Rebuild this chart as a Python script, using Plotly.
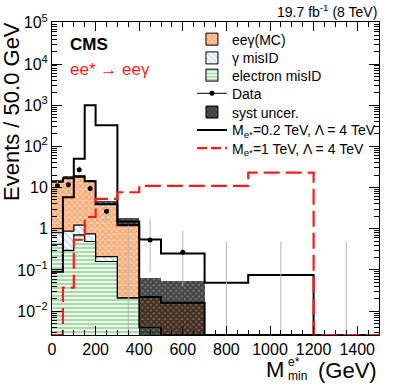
import plotly.graph_objects as go

# bin edges in GeV
edges = [0, 50, 100, 150, 200, 300, 400, 500, 700, 900, 1200, 1500]

# background stack (events / 50 GeV)
electron_misid = [0.42, 0.30, 0.71, 0.49, 0.16, 0.021, 0.004, 0, 0, 0, 0]
gamma_misid = [0.38, 0.58, 0.51, 0.26, 0.05, 0, 0, 0, 0, 0, 0]
eeg_mc = [13.0, 16.0, 17.4, 13.4, 3.7, 1.48, 0.018, 0.016, 0, 0, 0]

# systematic band
syst_lo = [13.3, 16.0, 17.5, 13.3, 3.7, 1.22, 0, 0, 0, 0, 0]
syst_hi = [15.1, 18.6, 20.3, 15.4, 4.85, 1.83, 0.065, 0.054, 0, 0, 0]

# signals
sig_02 = [0.09, 5.8, 50, 1000, 325, 1.22, 0.55, 0.25, 0.049, 0.075, 0]
sig_1 = [0, 0.037, 0.54, 1.93, 5.3, 7.7, 11, 11, 11, 23, 0]

# data
data = [11, 11.7, 27, 9.5, 2.65, 0, 0.53, 0.27, 0, 0, 0]
data_up = [3.5, 3.6, 6.3, 3.4, 1.1, 1.2, 1.23, 0.63, 0.49, 0.49, 0.49]
data_dn = [3.2, 3.3, 5.2, 3.0, 1.1, 0, 0.44, 0.23, 0, 0, 0]

y_ticks = [0.01, 0.1, 1, 10, 100, 1000, 1e4, 1e5]
y_ticktext = ["10<sup>−2</sup>", "10<sup>−1</sup>", "1", "10", "10<sup>2</sup>",
              "10<sup>3</sup>", "10<sup>4</sup>", "10<sup>5</sup>"]

FONT = "Liberation Sans"
RED = "#ff1a1a"
y_lo_log = -2.58
y_floor = 10 ** y_lo_log
bar_floor = 1e-5

n = len(edges) - 1
centers = [(edges[i] + edges[i + 1]) / 2 for i in range(n)]
widths = [edges[i + 1] - edges[i] for i in range(n)]

cum1 = electron_misid
cum2 = [a + b for a, b in zip(cum1, gamma_misid)]
cum3 = [a + b for a, b in zip(cum2, eeg_mc)]

pat_green = dict(shape="-", fgcolor="#4fb34f", bgcolor="#eef8ee", size=4, solidity=0.45)
pat_blue = dict(shape="\\", fgcolor="#7fb0de", bgcolor="white", size=5, solidity=0.3)
pat_orange = dict(shape="x", fgcolor="#f07020", bgcolor="#fcd3b2", size=4, solidity=0.55)
pat_syst = dict(shape="x", fgcolor="#000000", bgcolor="rgba(0,0,0,0.45)", size=4, solidity=0.85)


def step(vals):
    v = [max(x, y_floor) for x in vals]
    return v + [v[-1]]


fig = go.Figure()

fig.add_trace(go.Bar(x=centers, width=widths, base=[bar_floor] * n, y=electron_misid,
                     marker=dict(color="white", line_width=0, pattern=pat_green),
                     showlegend=False))
fig.add_trace(go.Bar(x=centers, width=widths, base=[max(v, bar_floor) for v in cum1],
                     y=gamma_misid,
                     marker=dict(color="white", line_width=0, pattern=pat_blue),
                     showlegend=False))
fig.add_trace(go.Bar(x=centers, width=widths, base=[max(v, bar_floor) for v in cum2],
                     y=eeg_mc,
                     marker=dict(color="white", line_width=0, pattern=pat_orange),
                     showlegend=False))
fig.add_trace(go.Bar(x=centers, width=widths, base=[max(v, bar_floor) for v in syst_lo],
                     y=[h - max(l, bar_floor) if h > 0 else 0 for l, h in zip(syst_lo, syst_hi)],
                     marker=dict(color="rgba(0,0,0,0)", line_width=0, pattern=pat_syst),
                     showlegend=False))

# stack outlines
for vals, lw in [(cum1, 1.2), (cum2, 1.2), (cum3, 2)]:
    fig.add_trace(go.Scatter(x=edges, y=step(vals), mode="lines", line_shape="hv",
                             line=dict(color="black", width=lw), showlegend=False,
                             hoverinfo="skip"))

# signals
fig.add_trace(go.Scatter(x=edges, y=step(sig_02), mode="lines", line_shape="hv",
                         line=dict(color="black", width=2), showlegend=False))
fig.add_trace(go.Scatter(x=edges, y=step(sig_1), mode="lines", line_shape="hv",
                         line=dict(color=RED, width=2.2, dash="16px,6px"), showlegend=False))

# data: empty bins (upper error only)
zx = [c for c, d in zip(centers, data) if d == 0]
zu = [u for u, d in zip(data_up, data) if d == 0]
fig.add_trace(go.Scatter(x=zx, y=zu, mode="markers",
                         marker=dict(size=1, color="rgba(0,0,0,0)"),
                         error_y=dict(type="data", symmetric=False, array=[0] * len(zx),
                                      arrayminus=[u - bar_floor for u in zu],
                                      color="#b5b5b5", thickness=1, width=0),
                         showlegend=False, hoverinfo="skip"))
# data: filled bins
dx = [c for c, d in zip(centers, data) if d > 0]
dy = [d for d in data if d > 0]
du = [u for u, d in zip(data_up, data) if d > 0]
dd = [e for e, d in zip(data_dn, data) if d > 0]
fig.add_trace(go.Scatter(x=dx, y=dy, mode="markers",
                         marker=dict(size=5, color="black"),
                         error_y=dict(type="data", symmetric=False, array=du, arrayminus=dd,
                                      color="#b5b5b5", thickness=1, width=0),
                         showlegend=False))

# legend entries, one legend box each so the rows sit where the reference has them
leg_rows = [0.944, 0.884, 0.829, 0.771, 0.711, 0.654, 0.596]
proxies = [
    go.Bar(x=[None], y=[None], name="eeγ(MC)",
           marker=dict(color="white", line=dict(color="black", width=1), pattern=pat_orange)),
    go.Bar(x=[None], y=[None], name="γ misID",
           marker=dict(color="white", line=dict(color="black", width=1), pattern=pat_blue)),
    go.Bar(x=[None], y=[None], name="electron misID",
           marker=dict(color="white", line=dict(color="black", width=1), pattern=pat_green)),
    go.Scatter(x=[None], y=[None], mode="lines+markers", name="Data",
               marker=dict(size=5, color="black"), line=dict(color="black", width=1)),
    go.Bar(x=[None], y=[None], name="syst uncer.",
           marker=dict(color="white", line=dict(color="black", width=1),
                       pattern=dict(pat_syst, bgcolor="#777777"))),
    go.Scatter(x=[None], y=[None], mode="lines", name="M<sub>e*</sub>=0.2 TeV, Λ = 4 TeV",
               line=dict(color="black", width=2)),
    go.Scatter(x=[None], y=[None], mode="lines", name="M<sub>e*</sub>=1 TeV, Λ = 4 TeV",
               line=dict(color=RED, width=2.2, dash="10px,4px")),
]
legends = {}
for i, tr in enumerate(proxies):
    key = "legend" if i == 0 else f"legend{i + 1}"
    tr.update(legend=key, showlegend=True)
    fig.add_trace(tr)
    legends[key] = dict(x=0.428, y=leg_rows[i], xanchor="left", yanchor="middle",
                        bgcolor="rgba(0,0,0,0)", font=dict(size=14), itemwidth=30)

fig.update_layout(
    width=399, height=390,
    margin=dict(l=52, r=20, t=16, b=55),
    paper_bgcolor="white", plot_bgcolor="white",
    barmode="overlay", bargap=0,
    font=dict(family=FONT, size=16, color="black"),
    showlegend=True,
    xaxis=dict(range=[0, 1500], tick0=0, dtick=200, ticks="inside", ticklen=9,
               tickcolor="black", showline=True, linecolor="black", linewidth=1,
               mirror="allticks", showgrid=False, zeroline=False,
               tickfont=dict(size=16),
               minor=dict(dtick=50, ticks="inside", ticklen=5, tickcolor="black",
                          showgrid=False)),
    yaxis=dict(type="log", range=[y_lo_log, 5.02], tickmode="array", tickvals=y_ticks,
               ticktext=y_ticktext, ticks="inside", ticklen=10, tickcolor="black",
               showline=True, linecolor="black", linewidth=1, mirror="allticks",
               showgrid=False, zeroline=False, tickfont=dict(size=16),
               minor=dict(tickmode="array",
                          tickvals=[k * 10 ** e for e in range(-3, 5) for k in range(2, 10)],
                          ticks="inside", ticklen=5, tickcolor="black", showgrid=False)),
    annotations=[
        dict(text="<b>CMS</b>", x=0.049, y=0.928, xref="paper", yref="paper",
             xanchor="left", yanchor="middle", showarrow=False, font=dict(size=17)),
        dict(text="ee* → eeγ", x=0.049, y=0.848, xref="paper", yref="paper",
             xanchor="left", yanchor="middle", showarrow=False,
             font=dict(size=17, color=RED)),
        dict(text="19.7 fb<sup>-1</sup> (8 TeV)", x=1.0, y=1.0, xref="paper", yref="paper",
             xanchor="right", yanchor="bottom", showarrow=False, font=dict(size=14)),
        dict(text="Events / 50.0 GeV", textangle=-90, x=-0.126, y=0.715,
             xref="paper", yref="paper", xanchor="center", yanchor="middle",
             showarrow=False, font=dict(size=22)),
        dict(text="(GeV)", x=1.0, y=-0.113, xref="paper", yref="paper",
             xanchor="right", yanchor="middle", showarrow=False, font=dict(size=22)),
        dict(text="M", x=0.716, y=-0.11, xref="paper", yref="paper",
             xanchor="right", yanchor="middle", showarrow=False, font=dict(size=22)),
        dict(text="e*", x=0.716, y=-0.086, xref="paper", yref="paper",
             xanchor="left", yanchor="middle", showarrow=False, font=dict(size=12)),
        dict(text="min", x=0.716, y=-0.132, xref="paper", yref="paper",
             xanchor="left", yanchor="middle", showarrow=False, font=dict(size=12)),
    ],
    **legends,
)

fig.write_html("out.html", config={"displayModeBar": False},
               post_script="document.body.style.margin='0';")
